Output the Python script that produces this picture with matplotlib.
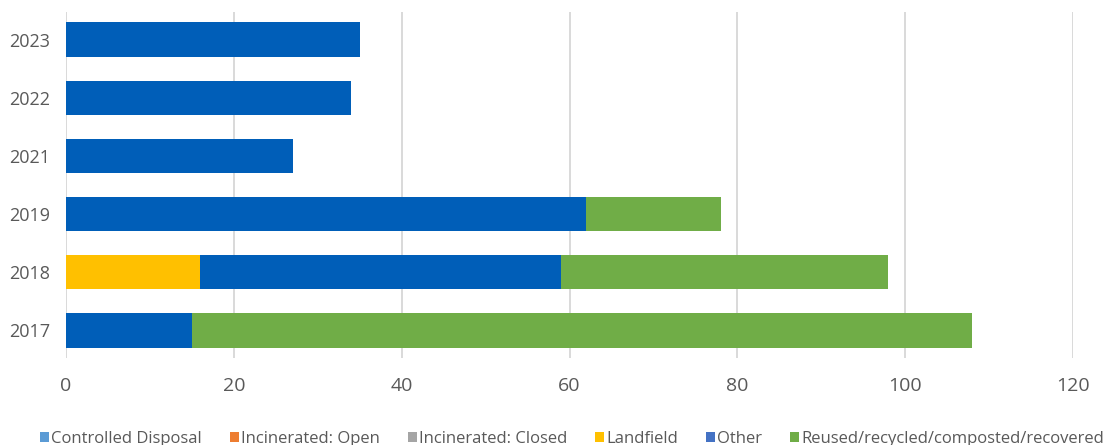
import numpy as np
import matplotlib.pyplot as plt
from matplotlib.patches import Patch

plt.rcParams["font.family"] = ["Open Sans", "DejaVu Sans"]

# DATA

years = ["2017", "2018", "2019", "2021", "2022", "2023"]
controlled_disposal = [0, 0, 0, 0, 0, 0]
incinerated_open = [0, 0, 0, 0, 0, 0]
incinerated_closed = [0, 0, 0, 0, 0, 0]
landfield = [0, 16, 0, 0, 0, 0]
other = [15, 43, 62, 27, 34, 35]
reused = [93, 39, 16, 0, 0, 0]

series = [
    ("Controlled Disposal", controlled_disposal, "#5B9BD5", "#5B9BD5"),
    ("Incinerated: Open", incinerated_open, "#ED7D31", "#ED7D31"),
    ("Incinerated: Closed", incinerated_closed, "#A5A5A5", "#A5A5A5"),
    ("Landfield", landfield, "#FFC000", "#FFC000"),
    ("Other", other, "#005EB8", "#4472C4"),
    ("Reused/recycled/composted/recovered", reused, "#70AD47", "#70AD47"),
]

# PLOT

fig = plt.figure(figsize=(11.11, 4.45), dpi=100)
ax = fig.add_axes([66 / 1111, 1 - 358 / 445, (1073 - 66) / 1111, (358 - 12) / 445])

y = np.arange(len(years))
left = np.zeros(len(years))
handles = []
for name, vals, bar_color, legend_color in series:
    vals = np.array(vals, dtype=float)
    ax.barh(y, vals, left=left, height=0.6, color=bar_color, zorder=3)
    left += vals
    handles.append(Patch(facecolor=legend_color, label=name))

ax.set_xlim(0, 120)
ax.set_ylim(-0.48, len(years) - 0.52)
ax.set_xticks(np.arange(0, 121, 20))
ax.set_yticks(y)
ax.set_yticklabels(years)

ax.grid(axis="x", color="#D9D9D9", linewidth=1.4, zorder=0)
for s in ax.spines.values():
    s.set_visible(False)
ax.tick_params(axis="both", length=0, colors="#595959")
ax.tick_params(axis="x", labelsize=14, pad=14)
ax.tick_params(axis="y", labelsize=13, pad=11.5)

fig.legend(
    handles=handles,
    loc="center",
    bbox_to_anchor=(572 / 1111, 6 / 445),
    ncol=6,
    frameon=False,
    handlelength=0.54,
    handleheight=0.54,
    handletextpad=0.12,
    columnspacing=1.68,
    borderpad=0,
    prop={"size": 12},
    labelcolor="#595959",
)

fig.savefig("out.png", dpi=100)
